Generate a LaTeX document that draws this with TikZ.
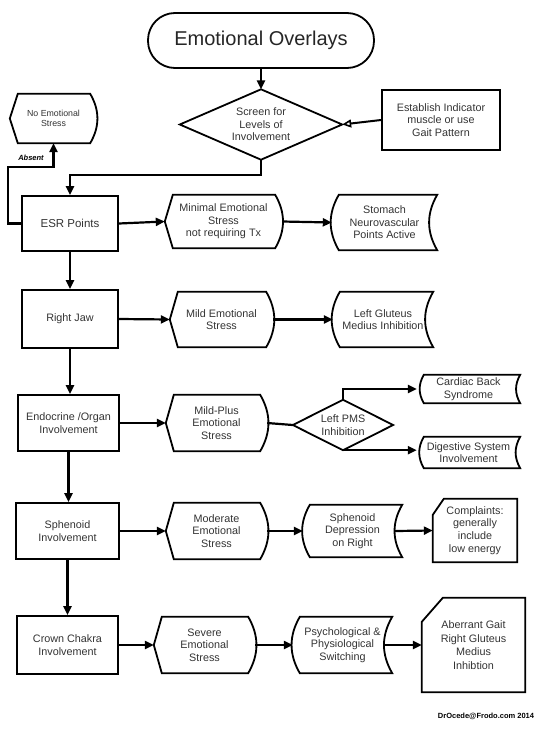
\documentclass[tikz,border=0pt]{standalone}
\usepackage{fontspec}
\setmainfont{Liberation Sans}
\usetikzlibrary{arrows.meta}
\tikzset{
  txt/.style={font=\fontsize{10.8}{12.6}\selectfont, text=black!80, align=center, inner sep=0pt},
  bord/.style={line width=1.8pt, line join=miter},
  rbox/.style={txt, draw, line width=1.8pt},
  shp/.style={txt},
  conn/.style={line width=2.2pt, -{Triangle[length=9pt,width=8pt]}},
  plainconn/.style={line width=2.2pt},
  openconn/.style={line width=2pt, -{Triangle[open,length=9pt,width=8pt,line width=1.6pt]}},
}
\newcommand\dispdraw[1]{\draw[bord] ([xshift=8pt]#1.north west) -- (#1.west) -- ([xshift=8pt]#1.south west) -- ([xshift=-7pt]#1.south east) to[bend right=30] ([xshift=-7pt]#1.north east) -- cycle;}
\newcommand\storedraw[1]{\draw[bord] ([xshift=7pt]#1.north west) -- (#1.north east) to[bend right=30] (#1.south east) -- ([xshift=7pt]#1.south west) to[bend left=30] ([xshift=7pt]#1.north west) -- cycle;}
\newcommand\diadraw[1]{\draw[bord] (#1.north) -- (#1.east) -- (#1.south) -- (#1.west) -- cycle;}
\newcommand\cutdraw[3]{\draw[bord] ([yshift=-#3]#1.north west) -- ([xshift=#2]#1.north west) -- (#1.north east) -- (#1.south east) -- (#1.south west) -- cycle;}
\begin{document}
\begin{tikzpicture}[x=1pt,y=-1pt]
\useasboundingbox (0,0) rectangle (541,736);

% title and top
\node[rbox, rounded corners=27pt, minimum width=226pt, minimum height=55pt, font=\fontsize{20}{22}\selectfont, text=black!85] (title) at (261,40.5) {Emotional Overlays};
\node[shp, minimum width=162pt, minimum height=70pt] (screen) at (261,124.5) {Screen for\\Levels of\\Involvement};
\diadraw{screen}
\node[rbox, minimum width=118pt, minimum height=60pt] (est) at (441,120) {Establish Indicator\\muscle or use\\Gait Pattern};
\node[shp, minimum width=87pt, minimum height=49pt, font=\fontsize{8.8}{10}\selectfont] (nes) at (53.5,118.5) {No Emotional\\Stress};
\dispdraw{nes}

% row 1
\node[rbox, minimum width=96pt, minimum height=55pt, font=\fontsize{11.5}{13}\selectfont] (esr) at (70,223.5) {ESR Points};
\node[shp, minimum width=117pt, minimum height=53pt] (min) at (223.5,221.5) {Minimal Emotional\\Stress\\not requiring Tx};
\dispdraw{min}
\node[shp, minimum width=105pt, minimum height=55pt] (stom) at (384.5,222.5) {Stomach\\Neurovascular\\Points Active};
\storedraw{stom}

% row 2
\node[rbox, minimum width=96pt, minimum height=58pt] (jaw) at (70,319) {Right Jaw};
\node[shp, minimum width=103pt, minimum height=55pt] (mild) at (221.5,319.5) {Mild Emotional\\Stress};
\dispdraw{mild}
\node[shp, minimum width=100pt, minimum height=55pt] (glut) at (383,319.5) {Left Gluteus\\Medius Inhibition};
\storedraw{glut}

% row 3
\node[rbox, minimum width=101pt, minimum height=56pt] (endo) at (68.5,423) {Endocrine /Organ\\Involvement};
\node[shp, minimum width=101pt, minimum height=56pt] (mp) at (216.5,423) {Mild-Plus\\Emotional\\Stress};
\dispdraw{mp}
\node[shp, minimum width=100pt, minimum height=50pt] (pms) at (343,425) {Left PMS\\Inhibition};
\diadraw{pms}
\node[shp, minimum width=103pt, minimum height=28pt] (card) at (468.5,389) {Cardiac Back\\Syndrome};
\storedraw{card}
\node[shp, minimum width=103pt, minimum height=31pt] (dig) at (468.5,452.5) {Digestive System\\Involvement};
\storedraw{dig}

% row 4
\node[rbox, minimum width=103pt, minimum height=56pt] (sph) at (67.5,531) {Sphenoid\\Involvement};
\node[shp, minimum width=101pt, minimum height=56pt] (mod) at (216.5,531) {Moderate\\Emotional\\Stress};
\dispdraw{mod}
\node[shp, minimum width=99pt, minimum height=52pt] (sd) at (352.5,531) {Sphenoid\\Depression\\on Right};
\storedraw{sd}
\node[shp, minimum width=84pt, minimum height=63pt] (comp) at (475,530.5) {Complaints:\\generally\\include\\low energy};
\cutdraw{comp}{11pt}{16pt}

% row 5
\node[rbox, minimum width=101pt, minimum height=58pt] (crown) at (67.5,645) {Crown Chakra\\Involvement};
\node[shp, minimum width=101pt, minimum height=56pt] (sev) at (204.5,645) {Severe\\Emotional\\Stress};
\dispdraw{sev}
\node[shp, minimum width=99pt, minimum height=56pt] (psy) at (342.5,645) {Psychological \&\\Physiological\\Switching};
\storedraw{psy}
\node[shp, minimum width=103pt, minimum height=94pt, font=\fontsize{10.8}{13.5}\selectfont] (ab) at (473.5,645) {Aberrant Gait\\Right Gluteus\\Medius\\Inhibtion};
\cutdraw{ab}{21pt}{24pt}

% labels
\node[inner sep=0pt, font=\fontsize{7.5}{9}\bfseries\itshape] (absent) at (31,158) {Absent};
\node[inner sep=0pt, font=\fontsize{7.5}{9}\bfseries] (foot) at (486,716) {DrOcede@Frodo.com 2014};
\coordinate (lp) at (8,167);

% connectors
\draw[conn] (title.south) -- (screen.north);
\draw[openconn] (est.west) -- (screen.east);
\draw[conn] (screen.south) -- ++(0,15) -| (esr.north);
\draw[conn] (esr.west) -| (lp) -| (nes.south);
\draw[conn] (esr.east) -- (min.west);
\draw[conn] (min.east) -- (stom.west);
\draw[conn] (esr.south) -- (esr.south |- jaw.north);
\draw[conn] (jaw.east) -- (mild.west);
\draw[conn] (mild.east) -- (glut.west);
\draw[conn] (jaw.south) -- (jaw.south |- endo.north);
\draw[conn] (endo.east) -- (mp.west);
\draw[plainconn] (mp.east) -- (pms.west);
\draw[conn] (pms.north) |- (card.west);
\draw[conn] (pms.south) -- (dig.west |- pms.south);
\draw[conn] (endo.south) -- (endo.south |- sph.north);
\draw[conn] (sph.east) -- (mod.west);
\draw[conn] (mod.east) -- (sd.west);
\draw[conn] ([xshift=-7pt]sd.east) -- (comp.west);
\draw[conn] (sph.south) -- (sph.south |- crown.north);
\draw[conn] (crown.east) -- (sev.west);
\draw[conn] (sev.east) -- (psy.west);
\draw[conn] ([xshift=-7pt]psy.east) -- (ab.west);
\end{tikzpicture}
\end{document}
